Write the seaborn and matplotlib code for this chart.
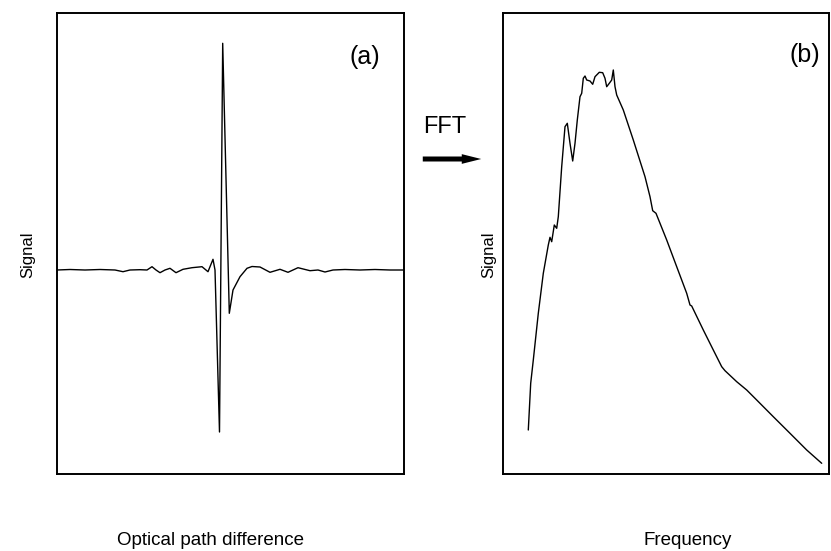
import matplotlib
matplotlib.use("Agg")
import matplotlib.pyplot as plt
import seaborn as sns
import pandas as pd
from matplotlib.patches import FancyArrowPatch

sns.set_style("white")
plt.rcParams['font.family'] = ['Liberation Sans', 'DejaVu Sans']
plt.rcParams['text.color'] = 'black'
plt.rcParams['axes.labelcolor'] = 'black'

# (a) interferogram: optical path difference vs signal (arbitrary units)
opd = [0, 13, 28, 43, 58, 66, 73, 83, 90, 95, 99, 103, 108, 113, 119, 126,
       135, 145, 151, 156, 158, 162.5, 165.7, 172.3, 176, 183, 190, 195,
       203, 213, 223, 231, 241, 253, 261, 268, 276, 288, 303, 318, 333, 347]
interferogram = [0, 0.5, 0, 0.5, 0, -1.7, 0, 0.3, 0, 3.3, 0, -2.7, 0, 1.7,
                 -2.7, 0.7, 2.3, 3.3, -1.7, 10.7, 0, -162, 226.7, -43.3,
                 -20, -6.7, 1.7, 3.5, 3, -2.3, 0.7, -2.3, 2.3, -0.7, 0, -2,
                 0, 0.5, 0, 0.5, 0, 0]

# (b) spectrum: frequency vs signal (arbitrary units)
freq = [25.3, 27.7, 30.3, 35.3, 40.3, 45.3, 47, 48.7, 51.3, 53.7, 55.3, 58.7,
        62, 64.3, 67, 69.7, 72, 74.3, 77, 78.7, 80.3, 82, 83.7, 87, 89.7, 92,
        96.3, 99.7, 102, 103.7, 106.3, 108.7, 110.3, 112, 113.7, 120.3, 130.3,
        142, 147, 149.7, 153, 163.7, 173.7, 183.7, 187, 188.7, 200.3, 210.3,
        218.7, 222, 233.7, 243.7, 253.7, 270.3, 287, 303.7, 318.7]
spectrum = [44, 90.7, 114, 160.7, 200.7, 229, 236.7, 232.3, 249, 245.7,
            257.3, 307.3, 347.3, 350.7, 330.7, 313, 330.7, 354, 377.3, 380.7,
            395.7, 398, 394, 393, 389.7, 397.3, 401.7, 401.3, 395.7, 387.3,
            390.7, 394, 404, 387.3, 379, 364, 334, 297.3, 277.3, 263.3, 260.7,
            234, 207.3, 180.7, 169, 168, 144, 124, 107.3, 103.3, 92.3, 84,
            74, 57.3, 40.7, 24, 10.7]

df_a = pd.DataFrame({"opd": opd, "signal": interferogram})
df_b = pd.DataFrame({"freq": freq, "signal": spectrum})

W, H = 831, 551
fig = plt.figure(figsize=(W / 100, H / 100), dpi=100)
ax1 = fig.add_axes([57 / W, (H - 474) / H, 347 / W, 461 / H])
ax2 = fig.add_axes([503 / W, (H - 474) / H, 326 / W, 461 / H])

sns.lineplot(data=df_a, x="opd", y="signal", ax=ax1, color="black",
             linewidth=1.0, estimator=None, sort=False)
sns.lineplot(data=df_b, x="freq", y="signal", ax=ax2, color="black",
             linewidth=1.0, estimator=None, sort=False)

ax1.set_xlim(0, 347)
ax1.set_ylim(-204, 257)
ax2.set_xlim(0, 326)
ax2.set_ylim(0, 461)

for ax in (ax1, ax2):
    ax.set_xticks([])
    ax.set_yticks([])
    for s in ax.spines.values():
        s.set_visible(True)
        s.set_color("black")
        s.set_linewidth(1.4)

ax1.set_xlabel("Optical path difference", fontsize=13.5)
ax2.set_xlabel("Frequency", fontsize=13.5)
ax1.xaxis.set_label_coords((211 - 57) / 347, -(532 - 474) / 461)
ax2.xaxis.set_label_coords((688 - 503) / 326, -(532 - 474) / 461)
ax1.set_ylabel("Signal", fontsize=12)
ax2.set_ylabel("Signal", fontsize=12)
ax1.yaxis.set_label_coords((35 - 57) / 347, (474 - 255) / 461)
ax2.yaxis.set_label_coords((496 - 503) / 326, (474 - 255) / 461)

ax1.text((365 - 57) / 347, (474 - 57) / 461, "(a)", transform=ax1.transAxes,
         ha="center", va="center", fontsize=18)
ax2.text((805 - 503) / 326, (474 - 55) / 461, "(b)", transform=ax2.transAxes,
         ha="center", va="center", fontsize=18)

fig.text(445 / W, 1 - 127 / H, "FFT", ha="center", va="center", fontsize=17)
arrow = FancyArrowPatch((420 / W, 1 - 159 / H), (484 / W, 1 - 159 / H),
                        transform=fig.transFigure,
                        arrowstyle="simple,head_length=1.4,head_width=0.7,tail_width=0.36",
                        mutation_scale=10, color="black", lw=0)
fig.add_artist(arrow)

fig.savefig("out.png", dpi=100)
